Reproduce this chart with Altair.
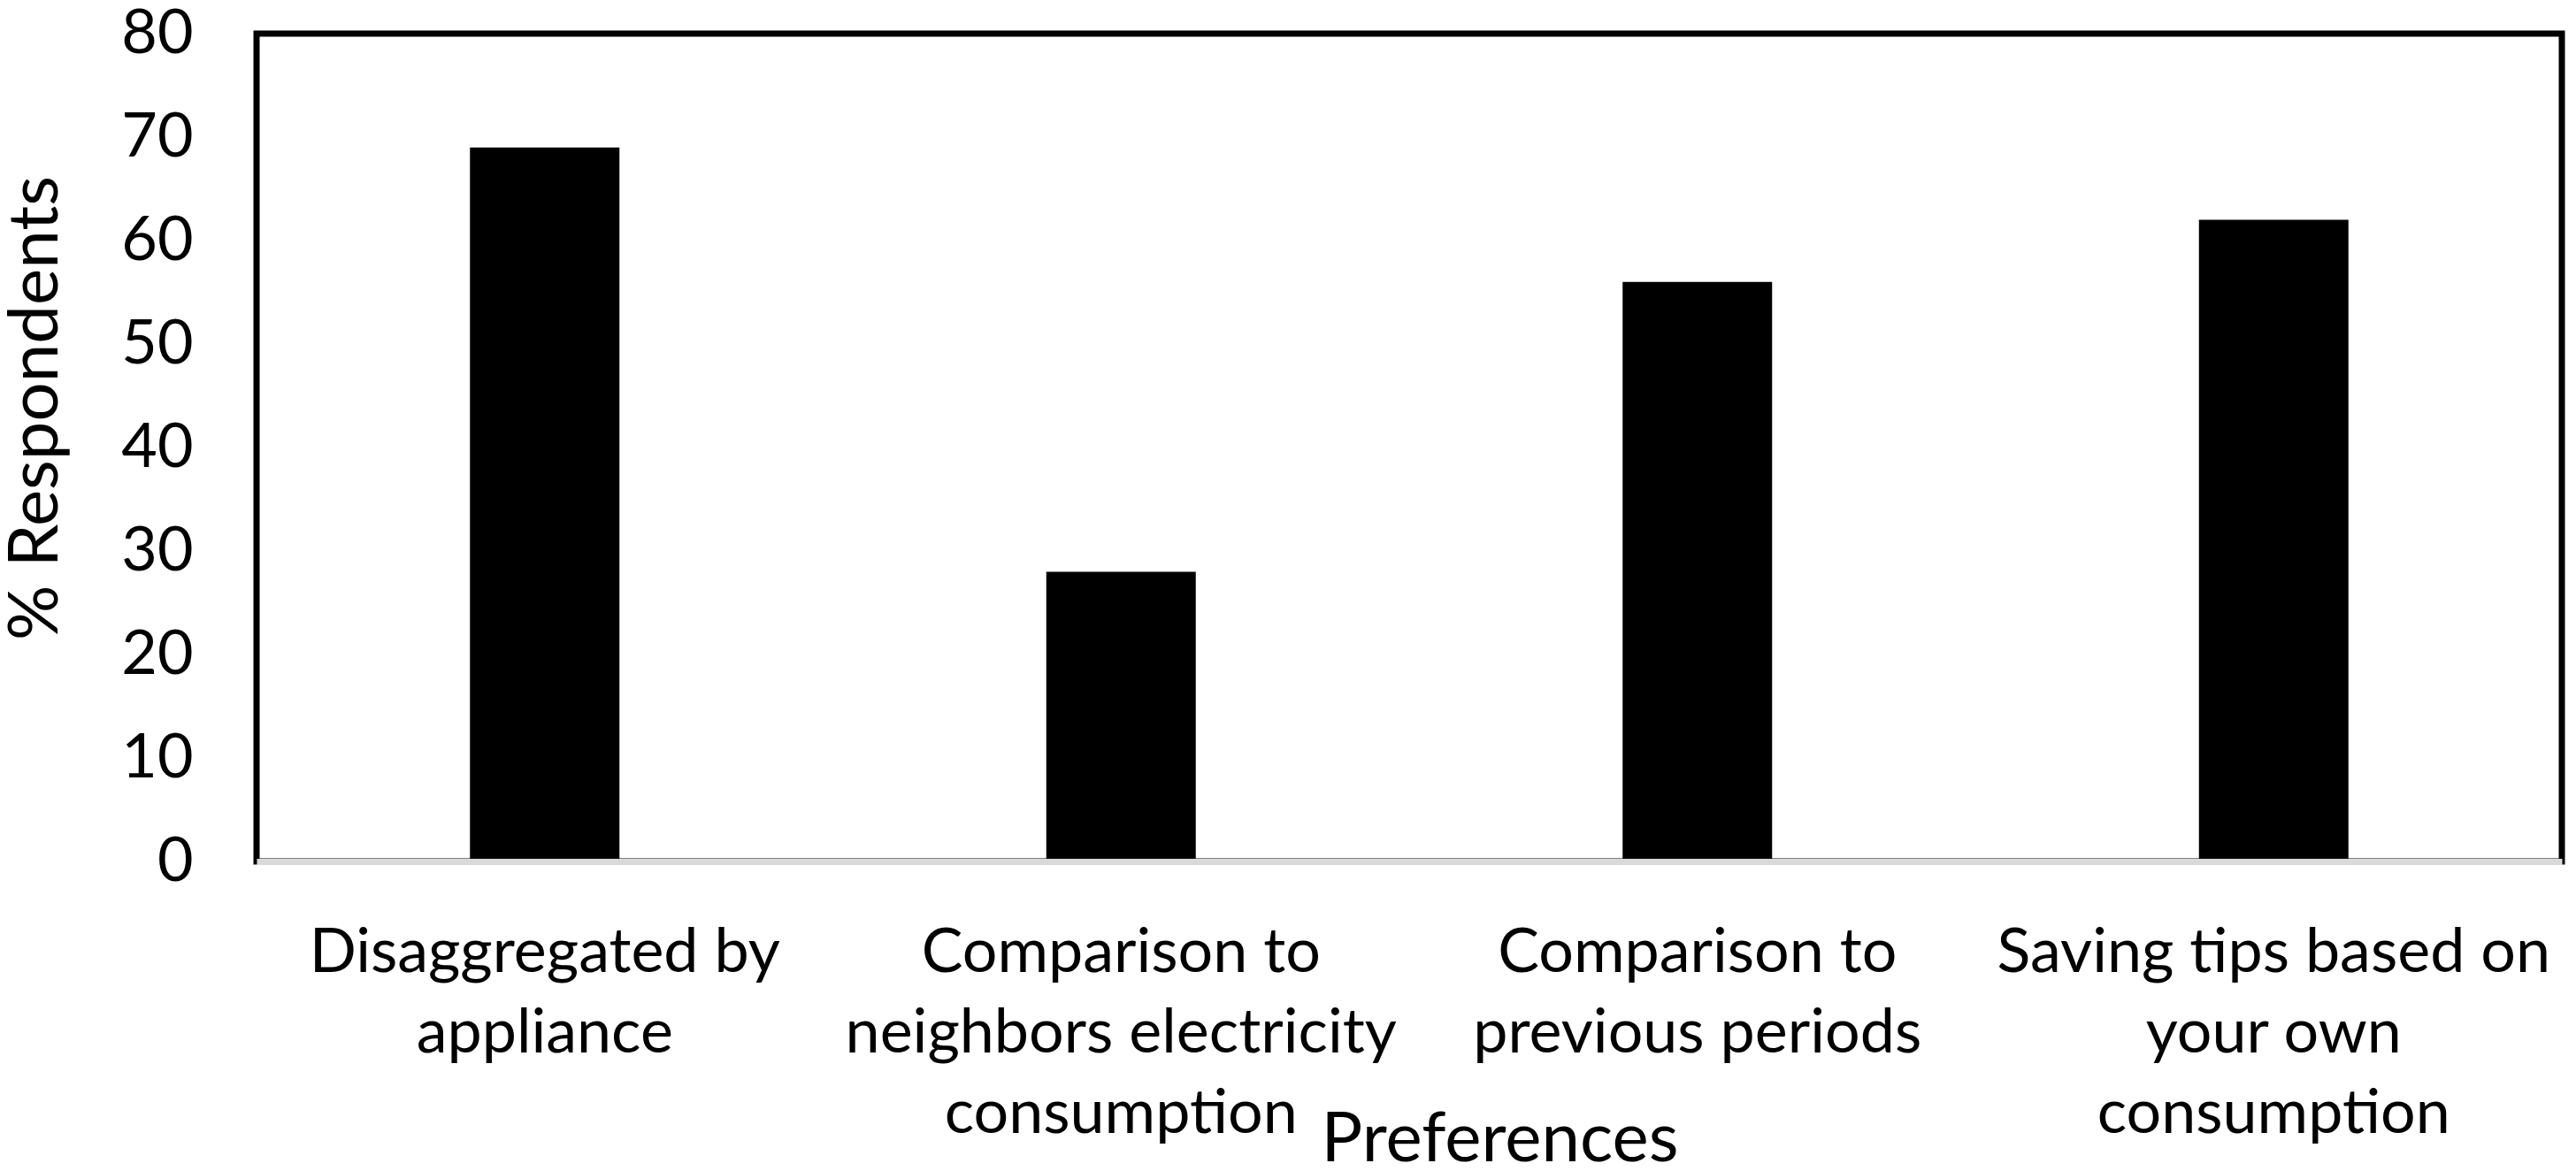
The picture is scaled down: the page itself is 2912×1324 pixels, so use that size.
import altair as alt
import pandas as pd

categories = [
    "Disaggregated by\nappliance",
    "Comparison to\nneighbors electricity\nconsumption",
    "Comparison to\nprevious periods",
    "Saving tips based on\nyour own\nconsumption",
]
values = [69, 28, 56, 62]
y_ticks = [0, 10, 20, 30, 40, 50, 60, 70, 80]

df = pd.DataFrame({"pref": categories, "pct": values})

FONT = "Lato"
FS = 70
TFS = 78

chart = (
    alt.Chart(df)
    .mark_bar(color="black")
    .encode(
        x=alt.X(
            "pref:N",
            sort=categories,
            scale=alt.Scale(paddingInner=0.7406, paddingOuter=0.3703),
            axis=alt.Axis(
                title="Preferences",
                labelAngle=0,
                labelExpr="split(datum.label, '\\n')",
                labelLineHeight=91,
                labelBaseline="alphabetic",
                labelPadding=124,
                labelFont=FONT,
                labelFontSize=FS,
                labelColor="black",
                labelLimit=0,
                ticks=False,
                tickSize=0,
                domainColor="#d9d9d9",
                domainWidth=7,
                titleFont=FONT,
                titleFontSize=TFS,
                titleFontWeight="normal",
                titleColor="black",
                titleX=1405,
                titleY=338,
                titleAlign="center",
                titleBaseline="alphabetic",
                zindex=1,
            ),
        ),
        y=alt.Y(
            "pct:Q",
            scale=alt.Scale(domain=[0, 80], nice=False),
            axis=alt.Axis(
                title="% Respondents",
                values=y_ticks,
                grid=False,
                domain=False,
                ticks=False,
                tickSize=0,
                labelPadding=72,
                labelFont=FONT,
                labelFontSize=FS,
                labelColor="black",
                labelBaseline="middle",
                titleFont=FONT,
                titleFontSize=TFS,
                titleFontWeight="normal",
                titleColor="black",
                titleAngle=270,
                titleX=-226,
                titleY=423,
                titleAlign="center",
                titleBaseline="alphabetic",
            ),
        ),
    )
    .properties(
        width=2606,
        height=936,
        background="white",
        autosize=alt.AutoSizeParams(type="none"),
        padding={"left": 282, "top": 30, "right": 8, "bottom": 350},
    )
    .configure_view(stroke="black", strokeWidth=7)
)

chart.save("out.html", embed_options={"renderer": "svg", "actions": False})
